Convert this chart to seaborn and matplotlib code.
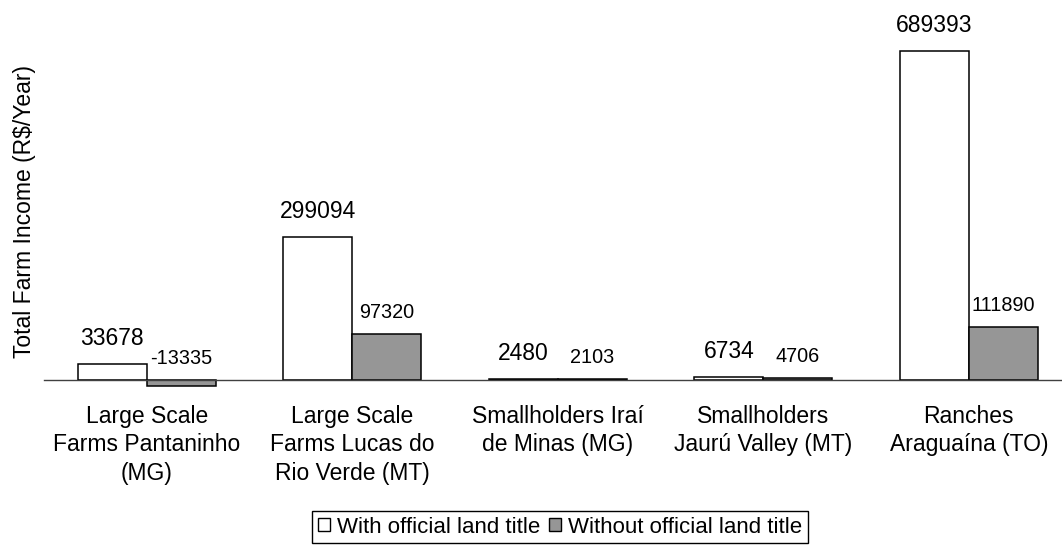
import numpy as np
import pandas as pd
import matplotlib
matplotlib.use("Agg")
import matplotlib.pyplot as plt
from matplotlib.patches import Patch
import seaborn as sns

# ------------------------------------------------------------------
# Data
# ------------------------------------------------------------------
regions = [
    "Large Scale\nFarms Pantaninho\n(MG)",
    "Large Scale\nFarms Lucas do\nRio Verde (MT)",
    "Smallholders Iraí\nde Minas (MG)",
    "Smallholders\nJaurú Valley (MT)",
    "Ranches\nAraguaína (TO)",
]
with_title = [33678, 299094, 2480, 6734, 689393]
without_title = [-13335, 97320, 2103, 4706, 111890]
series_names = ["With official land title", "Without official land title"]
series_colors = ["#ffffff", "#969696"]

df = pd.DataFrame({
    "region": regions * 2,
    "income": with_title + without_title,
    "title": [series_names[0]] * len(regions) + [series_names[1]] * len(regions),
})

# ------------------------------------------------------------------
# Plot
# ------------------------------------------------------------------
sns.set_style("white")
plt.rcParams["font.family"] = ["Liberation Sans", "DejaVu Sans"]
plt.rcParams["text.color"] = "black"
plt.rcParams["axes.labelcolor"] = "black"
plt.rcParams["xtick.color"] = "black"

fig = plt.figure(figsize=(10.62, 5.46), dpi=100)
ax = fig.add_axes([44 / 1062, 156 / 546, 1027.5 / 1062, 380 / 546])

sns.barplot(
    data=df, x="region", y="income", hue="title",
    order=regions, hue_order=series_names,
    palette=dict(zip(series_names, series_colors)),
    width=0.67, edgecolor="black", linewidth=1.1,
    legend=False, ax=ax,
)

# value labels above each bar (negative ones sit above the zero line)
label_sizes = [16.5, 14.3]
label_offsets = [10, 8.5]
for k, container in enumerate(ax.containers):
    for bar, val in zip(container, [with_title, without_title][k]):
        ax.annotate(
            f"{val}",
            xy=(bar.get_x() + bar.get_width() / 2, max(val, 0)),
            xytext=(0, label_offsets[k]), textcoords="offset points",
            ha="center", va="bottom", fontsize=label_sizes[k], color="black",
        )

ax.set_xlim(-0.5, len(regions) - 0.5)
ax.set_ylim(-20960, 775500)

for side in ["top", "right", "left"]:
    ax.spines[side].set_visible(False)
ax.spines["bottom"].set_position(("data", 0))
ax.spines["bottom"].set_color("#404040")
ax.spines["bottom"].set_linewidth(1.0)

ax.set_yticks([])
ax.set_xticks(np.arange(-0.5, len(regions)), minor=True)
ax.tick_params(axis="x", which="minor", length=5.5, width=1.0,
               color="#404040", direction="out")
ax.tick_params(axis="x", which="major", length=0, pad=18, labelsize=16.5,
               labelcolor="black")
for lbl in ax.get_xticklabels():
    lbl.set_linespacing(1.3)

ax.set_xlabel("")
ax.set_ylabel("Total Farm Income (R$/Year)", fontsize=16.5, color="black")
ax.yaxis.set_label_coords(-0.008, 0.47)

handles = [Patch(facecolor=c, edgecolor="black", linewidth=1.0) for c in series_colors]
leg = fig.legend(
    handles, series_names, loc="upper center",
    bbox_to_anchor=(560 / 1062, 35 / 546), ncol=2, fontsize=16,
    frameon=True, fancybox=False, edgecolor="black", framealpha=1,
    handlelength=0.55, handleheight=0.55, handletextpad=0.3,
    columnspacing=0.4, borderpad=0.25, borderaxespad=0,
)
leg.get_frame().set_linewidth(1.0)
for t in leg.get_texts():
    t.set_color("black")

fig.savefig("out.png", dpi=100)
plt.close(fig)
